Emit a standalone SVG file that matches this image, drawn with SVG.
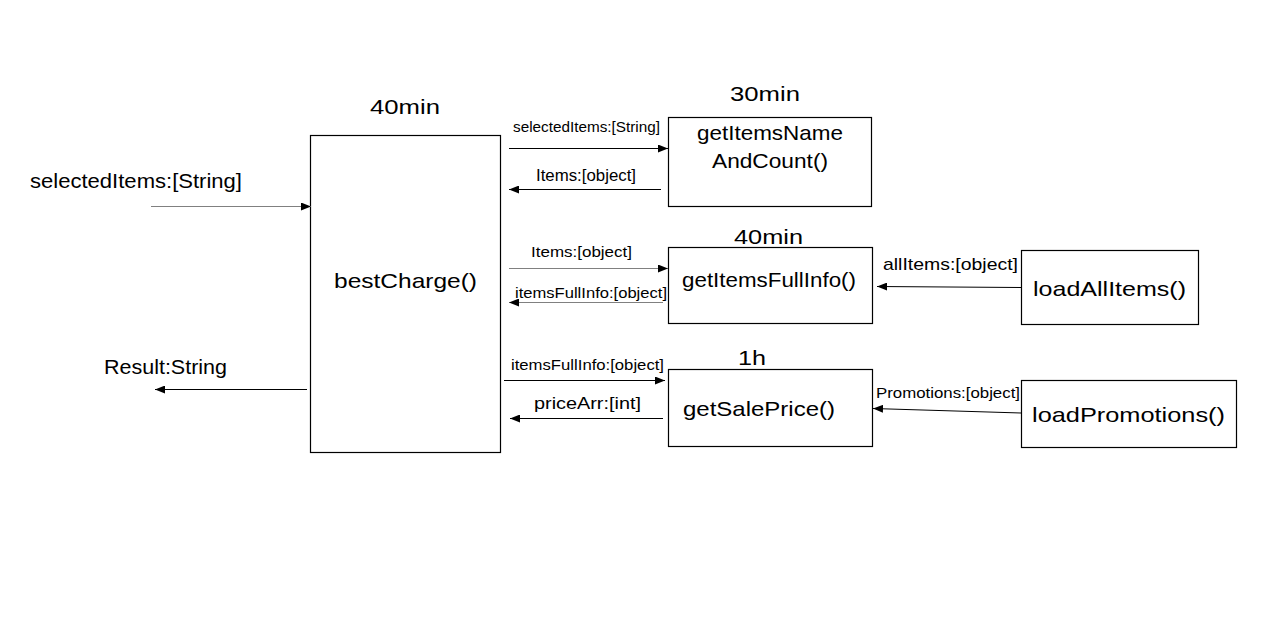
<svg xmlns="http://www.w3.org/2000/svg" width="1277" height="625" viewBox="0 0 1277 625">
<style>
.box{fill:#fff;stroke:#000;stroke-width:1.2}
.t{font-family:"Liberation Sans",Arial,sans-serif;fill:#000}
.big{font-size:21px}
.sm{font-size:15px}
.md{font-size:17px}
.ln{stroke:#000;stroke-width:1;fill:none;marker-end:url(#ah)}
.gr{stroke:#808080}
</style>
<defs>
<marker id="ah" viewBox="0 0 10 8" refX="10" refY="4" markerWidth="10" markerHeight="8" markerUnits="userSpaceOnUse" orient="auto">
<path d="M0,0 L10,4 L0,8 z" fill="#000"/>
</marker>
</defs>
<rect width="1277" height="625" fill="#fff"/>
<g id="bestCharge">
<rect class="box" x="310.500" y="135.500" width="190" height="317"/>
<text class="t big" x="334" y="288" textLength="143" lengthAdjust="spacingAndGlyphs">bestCharge()</text>
<text class="t big" x="370" y="114" textLength="70" lengthAdjust="spacingAndGlyphs">40min</text>
</g>
<g id="getItemsNameAndCount">
<rect class="box" x="668.500" y="117.500" width="203" height="89"/>
<text class="t big" x="697" y="140" textLength="146" lengthAdjust="spacingAndGlyphs">getItemsName</text>
<text class="t big" x="712" y="168" textLength="116" lengthAdjust="spacingAndGlyphs">AndCount()</text>
<text class="t big" x="730" y="101" textLength="70" lengthAdjust="spacingAndGlyphs">30min</text>
</g>
<g id="getItemsFullInfo">
<rect class="box" x="668.500" y="247.500" width="204" height="76"/>
<text class="t big" x="682" y="287" textLength="174" lengthAdjust="spacingAndGlyphs">getItemsFullInfo()</text>
<text class="t big" x="734" y="244" textLength="69" lengthAdjust="spacingAndGlyphs">40min</text>
</g>
<g id="getSalePrice">
<rect class="box" x="668.500" y="369.500" width="204" height="77"/>
<text class="t big" x="683" y="416" textLength="152" lengthAdjust="spacingAndGlyphs">getSalePrice()</text>
<text class="t big" x="738" y="365" textLength="28" lengthAdjust="spacingAndGlyphs">1h</text>
</g>
<g id="loadAllItems">
<rect class="box" x="1021.500" y="250.500" width="177" height="74"/>
<text class="t big" x="1033" y="296" textLength="153" lengthAdjust="spacingAndGlyphs">loadAllItems()</text>
</g>
<g id="loadPromotions">
<rect class="box" x="1021.500" y="380.500" width="215" height="67"/>
<text class="t big" x="1032" y="422" textLength="193" lengthAdjust="spacingAndGlyphs">loadPromotions()</text>
</g>
<g id="connectors">
<line class="ln gr" x1="151" y1="206.500" x2="311" y2="206.500"/>
<text class="t big" x="30" y="188" textLength="212" lengthAdjust="spacingAndGlyphs">selectedItems:[String]</text>
<line class="ln" x1="307" y1="389.500" x2="155" y2="389.500"/>
<text class="t big" x="104" y="374" textLength="123" lengthAdjust="spacingAndGlyphs">Result:String</text>
<line class="ln" x1="509" y1="148.500" x2="668" y2="148.500"/>
<text class="t sm" x="513" y="132" textLength="147" lengthAdjust="spacingAndGlyphs">selectedItems:[String]</text>
<line class="ln" x1="661" y1="189.500" x2="509" y2="189.500"/>
<text class="t md" x="536" y="181" textLength="100" lengthAdjust="spacingAndGlyphs">Items:[object]</text>
<line class="ln gr" x1="509" y1="268.500" x2="668" y2="268.500"/>
<text class="t sm" x="531" y="257" textLength="101" lengthAdjust="spacingAndGlyphs">Items:[object]</text>
<line class="ln gr" x1="663" y1="302.500" x2="509" y2="302.500"/>
<text class="t sm" x="515" y="298" textLength="152" lengthAdjust="spacingAndGlyphs">itemsFullInfo:[object]</text>
<line class="ln" x1="504" y1="380.500" x2="665" y2="380.500"/>
<text class="t sm" x="511" y="370" textLength="153" lengthAdjust="spacingAndGlyphs">itemsFullInfo:[object]</text>
<line class="ln" x1="663" y1="418.500" x2="510" y2="418.500"/>
<text class="t md" x="534" y="409" textLength="107" lengthAdjust="spacingAndGlyphs">priceArr:[int]</text>
<line class="ln" x1="1021" y1="287.500" x2="877" y2="286.500"/>
<text class="t md" x="883" y="270" textLength="135" lengthAdjust="spacingAndGlyphs">allItems:[object]</text>
<line class="ln" x1="1021" y1="413" x2="873" y2="408.500"/>
<text class="t sm" x="876" y="398" textLength="144" lengthAdjust="spacingAndGlyphs">Promotions:[object]</text>
</g>
</svg>
